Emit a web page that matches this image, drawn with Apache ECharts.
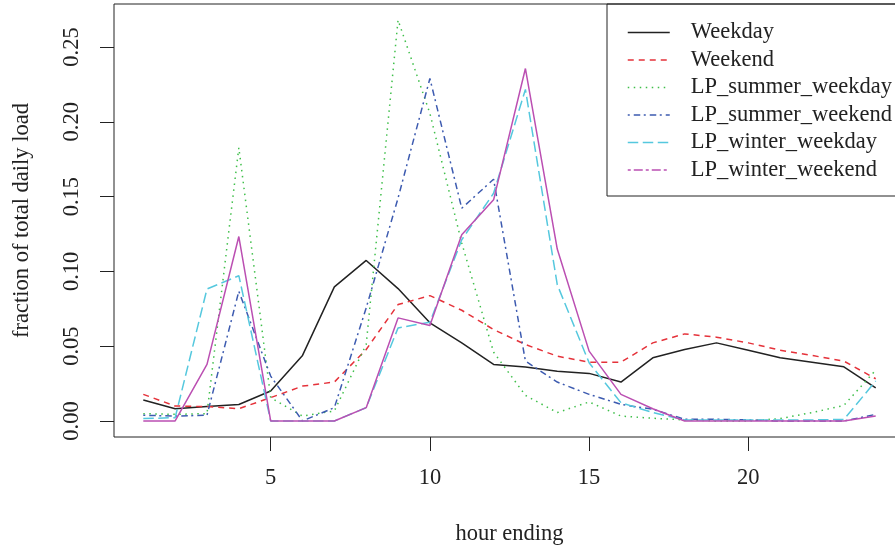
<!DOCTYPE html>
<html>
<head>
<meta charset="utf-8">
<script src="https://cdn.jsdelivr.net/npm/echarts@6/dist/echarts.min.js"></script>
<style>
  html, body { margin: 0; padding: 0; background: #fff; }
  #chart { width: 895px; height: 550px; }
</style>
</head>
<body>
<div id="chart"></div>
<script>
// Hourly load shapes: fraction of the total daily load per hour ending
const hours = [1,2,3,4,5,6,7,8,9,10,11,12,13,14,15,16,17,18,19,20,21,22,23,24];

const weekday = [0.0140, 0.0082, 0.0096, 0.0110, 0.0200, 0.0438, 0.0896, 0.1073, 0.0885, 0.0656, 0.0522, 0.0378,
                 0.0360, 0.0333, 0.0318, 0.0260, 0.0422, 0.0478, 0.0522, 0.0473, 0.0422, 0.0393, 0.0362, 0.0222];
const weekend = [0.0178, 0.0100, 0.0096, 0.0082, 0.0156, 0.0233, 0.0260, 0.0478, 0.0778, 0.0838, 0.0740, 0.0611,
                 0.0511, 0.0433, 0.0393, 0.0393, 0.0522, 0.0582, 0.0560, 0.0522, 0.0473, 0.0438, 0.0400, 0.0282];
const lpSummerWeekday = [0.0049, 0.0044, 0.0049, 0.1827, 0.0156, 0.0033, 0.0067, 0.0511, 0.2680, 0.2056, 0.1190, 0.0460,
                         0.0171, 0.0056, 0.0127, 0.0033, 0.0018, 0.0007, 0.0000, 0.0000, 0.0016, 0.0056, 0.0104, 0.0340];
const lpSummerWeekend = [0.0038, 0.0033, 0.0038, 0.0867, 0.0300, 0.0000, 0.0089, 0.0756, 0.1490, 0.2289, 0.1422, 0.1616,
                         0.0400, 0.0260, 0.0178, 0.0111, 0.0078, 0.0011, 0.0011, 0.0007, 0.0000, 0.0000, 0.0000, 0.0044];
const lpWinterWeekday = [0.0016, 0.0022, 0.0882, 0.0971, 0.0000, 0.0000, 0.0000, 0.0089, 0.0622, 0.0660, 0.1211, 0.1522,
                         0.2216, 0.0911, 0.0389, 0.0122, 0.0056, 0.0007, 0.0007, 0.0007, 0.0007, 0.0007, 0.0010, 0.0267];
const lpWinterWeekend = [0.0000, 0.0000, 0.0378, 0.1233, 0.0000, 0.0000, 0.0000, 0.0089, 0.0689, 0.0638, 0.1244, 0.1478,
                         0.2356, 0.1149, 0.0467, 0.0178, 0.0082, 0.0000, 0.0000, 0.0000, 0.0000, 0.0000, 0.0000, 0.0033];

const seriesNames = ['Weekday', 'Weekend', 'LP_summer_weekday', 'LP_summer_weekend', 'LP_winter_weekday', 'LP_winter_weekend'];
const xTicks = [5, 10, 15, 20];
const yTicks = [0, 0.05, 0.10, 0.15, 0.20, 0.25];

const FONT = 'Liberation Serif';
const FS = 22.5;
const INK = '#222';

// line appearance per series
const styles = [
  { color: '#222222', type: 'solid' },
  { color: '#e5323a', type: [6, 5] },
  { color: '#3fbf4a', type: [1.5, 4.5] },
  { color: '#3d5bb0', type: [2, 4, 6.5, 3.5] },
  { color: '#55c8de', type: [10.5, 4.5] },
  { color: '#bb4fb2', type: 'solid' }
];
const legendTypes = ['solid', [6, 5], [1.5, 4.5], [2, 4, 6.5, 3.5], [10.5, 4.5], [3, 3, 9, 3]];

const values = [weekday, weekend, lpSummerWeekday, lpSummerWeekend, lpWinterWeekday, lpWinterWeekend];

// axis ranges: data range padded by 4% on each side
const yMax = Math.max(...values.flat());
const yMin = 0;
const yPad = (yMax - yMin) * 0.04;
const xPad = (hours[hours.length - 1] - hours[0]) * 0.04;

const chart = echarts.init(document.getElementById('chart'), null, { renderer: 'canvas' });

chart.setOption({
  animation: false,
  backgroundColor: '#fff',
  textStyle: { fontFamily: FONT },
  grid: {
    left: 114, top: 4, width: 791, height: 433,
    outerBoundsMode: 'none',
    show: true, borderColor: INK, borderWidth: 1, backgroundColor: 'transparent'
  },
  xAxis: {
    type: 'value',
    min: hours[0] - xPad,
    max: hours[hours.length - 1] + xPad,
    axisLine: { show: false, onZero: false },
    splitLine: { show: false },
    axisTick: { show: true, customValues: xTicks, length: 14, lineStyle: { color: INK, width: 1 } },
    axisLabel: { customValues: xTicks, margin: 30, fontSize: FS, color: INK, fontFamily: FONT },
    name: 'hour ending',
    nameLocation: 'middle',
    nameGap: 86,
    nameTextStyle: { fontSize: FS, color: INK, fontFamily: FONT }
  },
  yAxis: {
    type: 'value',
    min: yMin - yPad,
    max: yMax + yPad,
    axisLine: { show: false, onZero: false },
    splitLine: { show: false },
    axisTick: { show: true, customValues: yTicks, length: 14, lineStyle: { color: INK, width: 1 } },
    axisLabel: {
      customValues: yTicks, rotate: 90, margin: 30, fontSize: FS, color: INK, fontFamily: FONT,
      formatter: v => v.toFixed(2)
    },
    name: 'fraction of total daily load',
    nameLocation: 'middle',
    nameRotate: 90,
    nameGap: 80,
    nameTextStyle: { fontSize: FS, color: INK, fontFamily: FONT }
  },
  legend: {
    left: 627,
    top: 21,
    orient: 'vertical',
    padding: 0,
    itemWidth: 42,
    itemHeight: 23,
    itemGap: 4.5,
    selectedMode: false,
    itemStyle: { opacity: 0 },
    textStyle: { fontSize: FS, lineHeight: 23, color: INK, fontFamily: FONT, padding: [0, 0, 0, 16] },
    data: seriesNames.map((n, i) => ({
      name: n,
      itemStyle: { opacity: 0 },
      lineStyle: { type: legendTypes[i], width: 1.5, color: styles[i].color }
    }))
  },
  graphic: [{
    type: 'rect',
    shape: { x: 607, y: 4, width: 400, height: 192 },
    style: { fill: '#fff', stroke: INK, lineWidth: 1 },
    z: -1,
    silent: true
  }],
  series: seriesNames.map((n, i) => ({
    name: n,
    type: 'line',
    data: hours.map((h, k) => [h, values[i][k]]),
    symbol: 'none',
    lineStyle: { color: styles[i].color, width: 1.5, type: styles[i].type },
    itemStyle: { color: styles[i].color },
    z: 2 + i
  }))
});
</script>
</body>
</html>
